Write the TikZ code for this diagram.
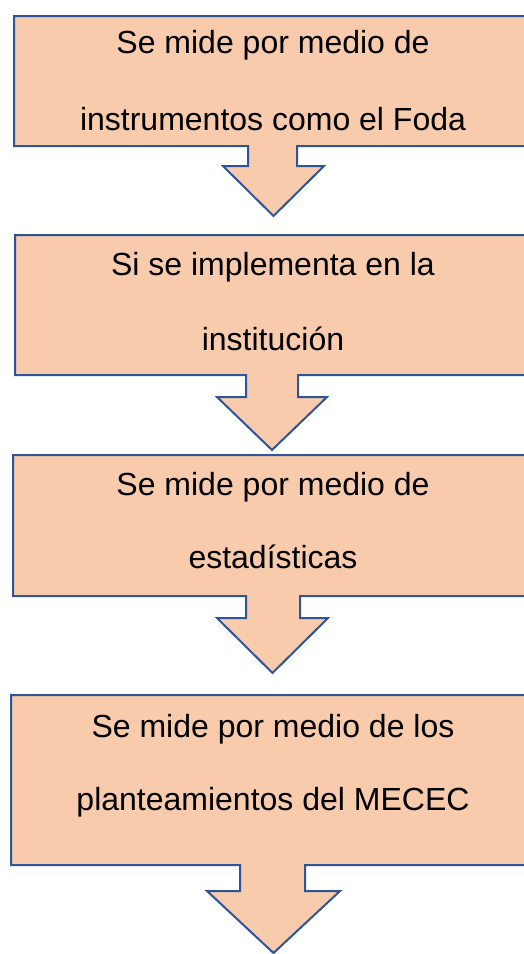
\documentclass[tikz,border=0pt]{standalone}
\usepackage{fontspec}
\setmainfont{Liberation Sans}
\definecolor{peach}{HTML}{F8CBAD}
\definecolor{edgeblue}{HTML}{2F5597}
\newcommand{\calloutshape}[9]{%
  % #1 top, #2 left, #3 bottom, #4 stem left, #5 stem right, #6 stem bottom, #7 wing left, #8 wing right, #9 tip
  \draw[callout] (#2,#1) -- (534,#1) -- (534,#3) -- (#5,#3) -- (#5,#6) -- (#8,#6)
    -- ({(#7+#8)/2},#9) -- (#7,#6) -- (#4,#6) -- (#4,#3) -- (#2,#3) -- cycle;}
\begin{document}
\begin{tikzpicture}[x=1bp,y=-1bp,
  callout/.style={draw=edgeblue,fill=peach,line width=2bp,line join=miter},
  txt/.style={anchor=base,inner sep=0pt,font=\fontsize{32bp}{36bp}\selectfont}]
\useasboundingbox (0,0) rectangle (524,954);
\clip (0,0) rectangle (524,954);
\calloutshape{16}{14}{146}{248}{297}{166}{223}{324}{216}
\calloutshape{235}{15}{375}{246}{298}{397}{217}{327}{450}
\calloutshape{455}{13}{596}{246}{300}{618}{217}{328}{673}
\calloutshape{695}{11}{865}{240}{305}{891}{207}{340}{953}
\node[txt] (a1) at (273,53) {Se mide por medio de};
\node[txt] (a2) at (273,130) {instrumentos como el Foda};
\node[txt] (b1) at (273,275) {Si se implementa en la};
\node[txt] (b2) at (273,350) {institución};
\node[txt] (c1) at (273,495) {Se mide por medio de};
\node[txt] (c2) at (273,568) {estadísticas};
\node[txt] (d1) at (273,737) {Se mide por medio de los};
\node[txt] (d2) at (273,810) {planteamientos del MECEC};
\end{tikzpicture}
\end{document}
